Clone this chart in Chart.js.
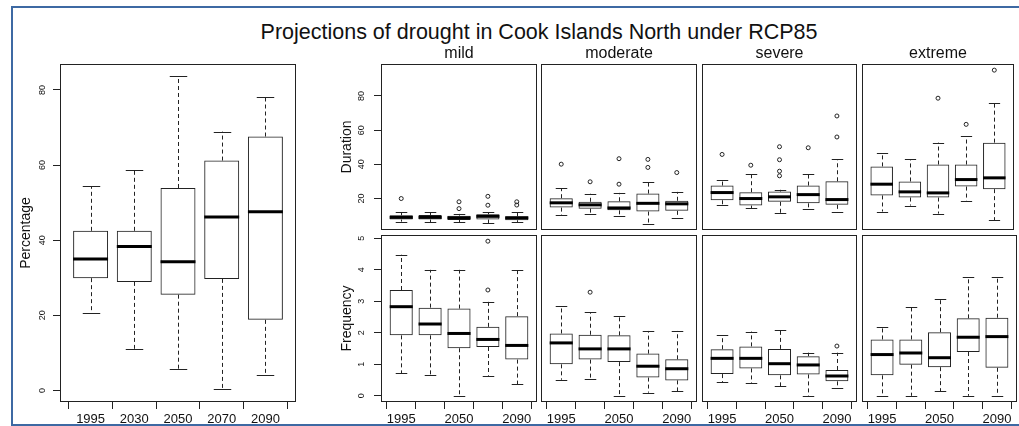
<!DOCTYPE html>
<html>
<head>
<meta charset="utf-8">
<title>Projections of drought in Cook Islands North under RCP85</title>
<script src="https://cdn.jsdelivr.net/npm/chart.js@4.4.1/dist/chart.umd.min.js"></script>
<style>
  html, body { margin: 0; padding: 0; background: #fff; }
  #page { position: relative; width: 1019px; height: 426px; overflow: hidden; background: #fff; }
  #page canvas { position: absolute; left: 0; top: 0; }
  .frame { position: absolute; left: 11px; top: 6px; width: 1030px; height: 416px; border: 2px solid #3d69a3; border-right: none; }
  h1 { position: absolute; left: 539px; top: 21px; transform: translateX(-50%); margin: 0;
       font: 400 21.5px/22px "Liberation Sans", Arial, sans-serif; white-space: nowrap; color: #111; }
</style>
</head>
<body>
<div id="page">
  <div class="frame"></div>
  <h1>Projections of drought in Cook Islands North under RCP85</h1>
</div>
<script>
const years = ['1995', '2030', '2050', '2070', '2090'];
const smallLabels = ['1995', '', '2050', '', '2090'];
const classes = ['mild', 'moderate', 'severe', 'extreme'];
const percentTicks = [0, 20, 40, 60, 80];
const durationTicks = [20, 40, 60, 80];
const frequencyTicks = [0, 1, 2, 3, 4, 5];

// each period: [lower whisker, Q1, median, Q3, upper whisker]
const percentage = [[20.6, 29.9, 35.0, 42.5, 54.4], [11.1, 28.9, 38.3, 42.5, 58.8], [5.6, 25.5, 34.3, 53.9, 83.6],
                    [0.3, 29.7, 46.2, 61.2, 68.9], [4.2, 18.8, 47.6, 67.6, 78.0]];

const durMild = [[6.5, 7.7, 9.0, 10.2, 12.0], [6.1, 7.7, 9.0, 10.4, 12.0], [6.1, 7.5, 8.7, 10.0, 11.0],
                 [5.7, 7.7, 9.6, 10.8, 12.0], [6.3, 7.3, 8.7, 9.6, 12.0]];
const durMildOut = [[20.0], [], [14.1, 18.1], [16.1, 21.3], [16.2, 18.1]];
const durModerate = [[10.2, 14.7, 17.5, 20.2, 25.9], [11.2, 14.1, 16.3, 18.1, 22.8], [9.6, 13.1, 14.5, 18.4, 23.3],
                     [5.2, 12.4, 17.2, 22.9, 29.8], [8.9, 12.8, 16.9, 18.7, 23.9]];
const durModerateOut = [[40.1], [29.8], [28.4, 43.3], [38.2, 42.9], [35.2]];
const durSevere = [[16.5, 19.0, 23.5, 27.6, 30.6], [14.3, 15.9, 20.0, 23.7, 34.5], [11.4, 18.1, 21.0, 24.1, 25.1],
                   [14.1, 17.2, 22.3, 27.6, 34.5], [12.2, 16.3, 19.4, 30.1, 42.9]];
const durSevereOut = [[45.8], [39.5], [33.3, 36.0, 42.7, 50.3], [49.7], [56.0, 68.3]];
const durExtreme = [[12.4, 21.8, 28.4, 38.8, 46.6], [15.9, 20.6, 23.9, 30.0, 42.9], [11.2, 20.6, 23.3, 39.9, 52.7],
                    [18.7, 27.0, 31.1, 39.9, 56.5], [7.3, 25.5, 32.1, 52.7, 76.1]];
const durExtremeOut = [[], [], [78.7], [63.4], [95.1]];

const freqMild = [[0.72, 1.92, 2.83, 3.36, 4.48], [0.65, 1.92, 2.28, 2.8, 4.0], [0, 1.51, 1.98, 2.77, 4.0],
                  [0.64, 1.55, 1.79, 2.19, 2.99], [0.36, 1.15, 1.6, 2.53, 4.0]];
const freqMildOut = [[], [], [], [3.36, 4.91], []];
const freqModerate = [[0.51, 1.0, 1.68, 1.98, 2.86], [0.55, 1.15, 1.49, 1.94, 2.66], [0, 1.07, 1.49, 1.92, 2.54],
                      [0.1, 0.58, 0.94, 1.34, 2.06], [0.15, 0.49, 0.86, 1.16, 2.06]];
const freqModerateOut = [[], [3.29], [], [], []];
const freqSevere = [[0.44, 0.69, 1.19, 1.48, 1.93], [0.4, 0.87, 1.19, 1.57, 2.04], [0.31, 0.65, 1.02, 1.49, 2.08],
                    [0, 0.68, 0.98, 1.26, 1.37], [0.26, 0.46, 0.63, 0.82, 1.37]];
const freqSevereOut = [[], [], [], [], [1.58]];
const freqExtreme = [[0, 0.65, 1.31, 1.79, 2.2], [0, 0.99, 1.36, 1.79, 2.83], [0.15, 0.91, 1.21, 2.02, 3.07],
                     [0, 1.39, 1.86, 2.46, 3.76], [0, 0.89, 1.88, 2.48, 3.76]];
const freqExtremeOut = [[], [], [], [], []];

Chart.defaults.font.family = '"Liberation Sans", Arial, sans-serif';
Chart.defaults.color = '#111';

const W = 1019, H = 426;
const yAxisWidth = 42, xAxisHeight = 24;
const ink = '#222';

// whiskers, medians, plot frame and strip label for one panel
const boxplot = {
  id: 'boxplot',
  beforeDatasetsDraw(chart, args, opts) {
    const { ctx, scales: { x, y } } = chart;
    const bars = chart.getDatasetMeta(0).data;
    ctx.save();
    ctx.strokeStyle = ink;
    ctx.lineWidth = 1;
    opts.stats.forEach((s, i) => {
      const cx = Math.round(x.getPixelForValue(i + 1)) + 0.5;
      const cap = bars[i].width / 4;
      const low = y.getPixelForValue(s[0]), q1 = y.getPixelForValue(s[1]);
      const q3 = y.getPixelForValue(s[3]), high = y.getPixelForValue(s[4]);
      ctx.setLineDash([4, 3]);
      ctx.beginPath();
      ctx.moveTo(cx, q3); ctx.lineTo(cx, high);
      ctx.moveTo(cx, q1); ctx.lineTo(cx, low);
      ctx.stroke();
      ctx.setLineDash([]);
      ctx.beginPath();
      ctx.moveTo(cx - cap, Math.round(high) + 0.5); ctx.lineTo(cx + cap, Math.round(high) + 0.5);
      ctx.moveTo(cx - cap, Math.round(low) + 0.5); ctx.lineTo(cx + cap, Math.round(low) + 0.5);
      ctx.stroke();
    });
    ctx.restore();
  },
  afterDatasetsDraw(chart, args, opts) {
    const { ctx, scales: { y } } = chart;
    const bars = chart.getDatasetMeta(0).data;
    ctx.save();
    ctx.strokeStyle = '#000';
    ctx.lineWidth = 3;
    opts.stats.forEach((s, i) => {
      const b = bars[i];
      const my = y.getPixelForValue(s[2]);
      ctx.beginPath();
      ctx.moveTo(b.x - b.width / 2, my);
      ctx.lineTo(b.x + b.width / 2, my);
      ctx.stroke();
    });
    ctx.restore();
  },
  afterDraw(chart, args, opts) {
    const { ctx, chartArea: a } = chart;
    ctx.save();
    ctx.strokeStyle = ink;
    ctx.lineWidth = 1;
    ctx.strokeRect(a.left + 0.5, a.top + 0.5, a.right - a.left - 1, a.bottom - a.top - 1);
    if (opts.strip) {
      ctx.fillStyle = '#111';
      ctx.font = '16px "Liberation Sans", Arial, sans-serif';
      ctx.textAlign = 'center';
      ctx.textBaseline = 'alphabetic';
      ctx.fillText(opts.strip, (a.left + a.right) / 2, 58);
    }
    ctx.restore();
  }
};

function makePanel(o) {
  const canvas = document.createElement('canvas');
  canvas.width = W;
  canvas.height = H;
  document.getElementById('page').appendChild(canvas);

  const boxes = o.stats.map((s, i) => ({ x: i + 1, y: [s[1], s[3]] }));
  const outliers = [];
  o.outliers.forEach((list, i) => list.forEach(v => outliers.push({ x: i + 1, y: v })));

  return new Chart(canvas, {
    type: 'bar',
    data: {
      datasets: [
        {
          type: 'bar', data: boxes,
          backgroundColor: 'rgba(255,255,255,0)', borderColor: ink, borderWidth: 1, borderSkipped: false,
          categoryPercentage: 1, barPercentage: 0.8
        },
        {
          type: 'scatter', data: outliers,
          pointRadius: 2, pointBorderWidth: 1, pointBorderColor: ink, pointBackgroundColor: 'rgba(0,0,0,0)'
        }
      ]
    },
    options: {
      responsive: false,
      animation: false,
      events: [],
      layout: {
        padding: {
          left: o.area[0] - (o.yTitle ? yAxisWidth : 0),
          top: o.area[1],
          right: W - o.area[2],
          bottom: H - o.area[3] - (o.xLabels ? xAxisHeight : 0)
        }
      },
      plugins: {
        legend: { display: false },
        tooltip: { enabled: false },
        boxplot: { stats: o.stats, strip: o.strip || '' }
      },
      scales: {
        x: {
          type: 'linear', display: !!o.xLabels, min: 0.3, max: 5.7, offset: false,
          afterBuildTicks: s => { s.ticks = years.map((_, i) => ({ value: i + 1 })); },
          afterFit: s => { s.height = o.xLabels ? xAxisHeight : 0; },
          grid: { drawOnChartArea: false, tickLength: 7, tickColor: ink, color: ink },
          border: { display: false },
          ticks: {
            autoSkip: false, maxRotation: 0, padding: 3, color: '#111', font: { size: 13 },
            callback: v => (o.xLabels ? o.xLabels[v - 1] : '')
          }
        },
        y: {
          type: 'linear', display: !!o.yTitle, min: o.yRange[0], max: o.yRange[1],
          afterBuildTicks: s => { s.ticks = o.yTicks.map(v => ({ value: v })); },
          afterFit: s => { s.width = o.yTitle ? yAxisWidth : 0; },
          grid: { drawOnChartArea: false, tickLength: 7, tickColor: ink, color: ink },
          border: { display: false },
          ticks: {
            minRotation: 90, maxRotation: 90, crossAlign: 'center', padding: o.yPad,
            color: '#111', font: { size: 9 }
          },
          title: { display: !!o.yTitle, text: o.yTitle || '', color: '#111', font: { size: 14 }, padding: 0 }
        }
      }
    },
    plugins: [boxplot]
  });
}

makePanel({
  area: [60, 64, 296, 402], stats: percentage, outliers: [[], [], [], [], []],
  yTitle: 'Percentage', yTicks: percentTicks, yRange: [-3.06, 86.9], yPad: 5, xLabels: years
});

const colLeft = [381, 541, 702, 862];
const colRight = [537, 697, 857, 1017];
const durStats = [durMild, durModerate, durSevere, durExtreme];
const durOut = [durMildOut, durModerateOut, durSevereOut, durExtremeOut];
const freqStats = [freqMild, freqModerate, freqSevere, freqExtreme];
const freqOut = [freqMildOut, freqModerateOut, freqSevereOut, freqExtremeOut];

classes.forEach((name, j) => {
  makePanel({
    area: [colLeft[j], 64, colRight[j], 230], stats: durStats[j], outliers: durOut[j],
    yTitle: j === 0 ? 'Duration' : null, yTicks: durationTicks, yRange: [1.6, 98.7], yPad: 7,
    xLabels: null, strip: name
  });
  makePanel({
    area: [colLeft[j], 235, colRight[j], 402], stats: freqStats[j], outliers: freqOut[j],
    yTitle: j === 0 ? 'Frequency' : null, yTicks: frequencyTicks, yRange: [-0.196, 5.106], yPad: 9.5,
    xLabels: smallLabels
  });
});
</script>
</body>
</html>
